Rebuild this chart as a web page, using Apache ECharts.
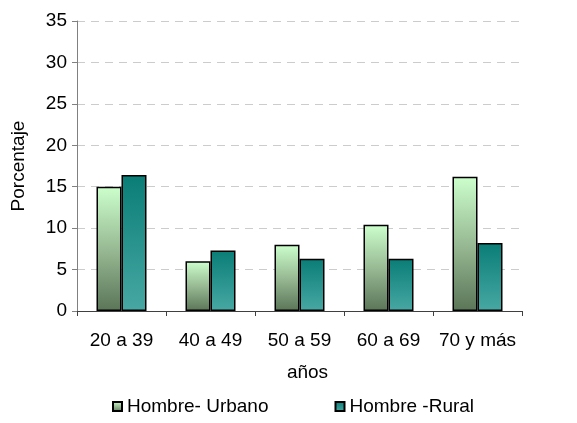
<!DOCTYPE html>
<html>
<head>
<meta charset="utf-8">
<script src="https://cdn.jsdelivr.net/npm/echarts@6/dist/echarts.min.js"></script>
<style>html,body{margin:0;padding:0;background:#fff}#c{width:577px;height:423px}</style>
</head>
<body>
<div id="c"></div>
<script>
const categories = ['20 a 39', '40 a 49', '50 a 59', '60 a 69', '70 y más'];
const urbano = [15.0, 6.0, 8.0, 10.4, 16.2];
const rural = [16.4, 7.3, 6.3, 6.3, 8.2];
const seriesNames = ['Hombre- Urbano', 'Hombre -Rural'];

const FONT = 'Liberation Sans, Arial, sans-serif';
const gUrb = new echarts.graphic.LinearGradient(0, 0, 0, 1, [
  {offset: 0, color: '#ccffcc'}, {offset: 0.5, color: '#98ba94'}, {offset: 1, color: '#5a7557'}
]);
const gRur = new echarts.graphic.LinearGradient(0, 0, 0, 1, [
  {offset: 0, color: '#0a7d77'}, {offset: 1, color: '#48a8a3'}
]);

const chart = echarts.init(document.getElementById('c'), null, {renderer: 'canvas'});
chart.setOption({
  animation: false,
  grid: {left: 77, right: 55, top: 21, bottom: 112, containLabel: false},
  legend: {
    left: 107, top: 392, itemWidth: 9, itemHeight: 9, itemGap: 66, icon: 'rect',
    textStyle: {fontFamily: FONT, fontSize: 19, color: '#000'},
    data: seriesNames
  },
  xAxis: {
    type: 'category', data: categories,
    name: 'años', nameLocation: 'middle', nameGap: 52,
    nameTextStyle: {fontFamily: FONT, fontSize: 19, color: '#000', padding: [0, 0, 0, 16]},
    axisLine: {lineStyle: {color: '#404040', width: 1}},
    axisTick: {show: true, length: 5, lineStyle: {color: '#404040'}},
    axisLabel: {fontFamily: FONT, fontSize: 19, color: '#000', margin: 20, interval: 0}
  },
  yAxis: {
    type: 'value', min: 0, max: 35, interval: 5,
    name: 'Porcentaje', nameLocation: 'middle', nameGap: 49,
    nameTextStyle: {fontFamily: FONT, fontSize: 19, color: '#000'},
    axisLine: {show: true, lineStyle: {color: '#808080', width: 1}},
    axisTick: {show: true, length: 5, lineStyle: {color: '#808080'}},
    axisLabel: {fontFamily: FONT, fontSize: 19, color: '#000', margin: 10},
    splitLine: {show: true, lineStyle: {color: '#cccccc', type: [8, 6], width: 1}}
  },
  series: [
    {name: seriesNames[0], type: 'bar', data: urbano, barWidth: 25, barGap: '0%',
     itemStyle: {color: gUrb, borderColor: '#000', borderWidth: 1.5}},
    {name: seriesNames[1], type: 'bar', data: rural, barWidth: 25, barGap: '0%',
     itemStyle: {color: gRur, borderColor: '#000', borderWidth: 1.5}}
  ]
});
</script>
</body>
</html>
